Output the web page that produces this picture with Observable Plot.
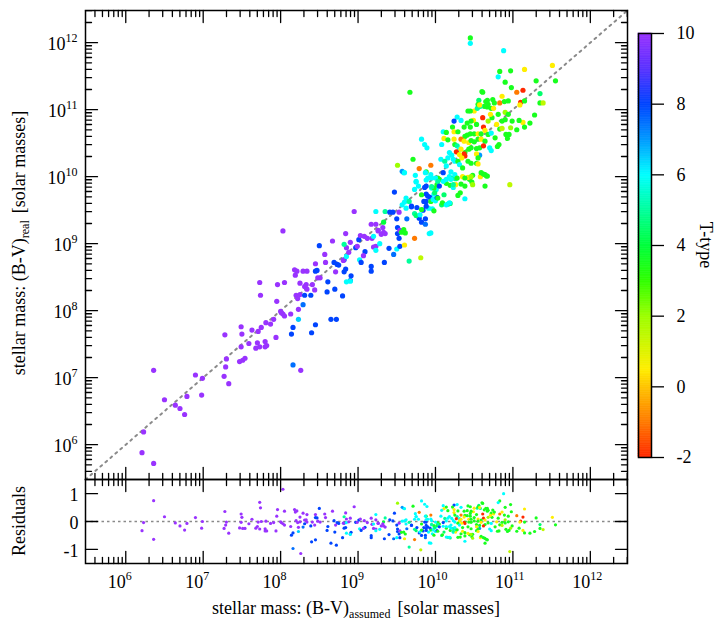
<!DOCTYPE html>
<html><head><meta charset="utf-8">
<script src="https://cdn.jsdelivr.net/npm/d3@7"></script>
<script src="https://cdn.jsdelivr.net/npm/@observablehq/plot@0.6"></script>
<style>
body{margin:0;background:#fff}
#chart{position:relative;width:715px;height:622px;font-family:"Liberation Serif","DejaVu Serif",serif}
#chart svg{position:absolute;left:0;top:0}
#chart svg text{font-family:"Liberation Serif","DejaVu Serif",serif}
</style></head><body><div id="chart"></div>
<script>
// log10 of stellar mass from (B-V) assumed
const logMassAssumed = [
6.36,6.21,6.36,6.23,6.50,6.64,6.70,6.76,6.79,6.90,
6.99,6.98,7.27,7.33,7.29,7.30,7.28,7.47,7.51,7.54,
7.49,7.49,7.50,7.59,7.63,7.70,7.68,7.73,7.71,7.75,
7.80,7.80,7.82,7.81,7.87,7.91,7.94,7.95,7.74,7.73,
7.96,8.05,8.20,8.22,8.25,8.23,8.03,8.05,8.13,8.01,
8.16,8.14,8.23,8.16,8.26,
8.03,8.00,8.18,8.21,8.29,8.34,8.19,8.25,8.31,8.34,
8.33,8.41,8.44,8.48,8.51,8.45,8.45,8.47,8.57,8.58,
8.67,8.50,8.61,8.60,8.70,8.80,8.31,8.39,8.29,8.45,
8.40,8.65,8.72,8.69,8.73,8.75,8.82,8.84,8.82,8.91,
8.90,8.85,8.90,8.71,8.81,8.85,8.88,8.84,8.90,8.85,
8.82,8.95,8.97,8.99,9.01,9.03,9.08,9.09,9.07,9.02,
9.04,9.17,9.17,9.12,9.17,9.23,9.18,9.20,9.23,9.23,
9.20,9.28,9.34,9.23,9.35,9.26,9.33,9.32,9.26,9.30,
9.33,9.35,9.41,9.45,9.53,9.50,9.51,9.51,9.54,9.56,
9.59,9.61,9.53,9.50,9.54,9.40,9.46,9.60,9.73,9.66,
9.81,
9.63,9.92,9.94,9.79,9.82,9.87,9.87,9.73,9.75,9.84,
9.69,9.76,9.62,9.57,9.60,9.62,9.66,9.91,9.96,9.98,
9.88,9.90,9.93,9.85,9.88,9.94,9.97,10.00,10.02,9.98,
10.01,9.95,9.88,9.86,9.82,10.08,10.16,10.19,10.11,10.38,
10.29,10.32,10.02,9.88,9.75,10.14,10.19,10.23,10.26,10.33,
10.38,10.47,10.44,10.48,10.42,10.58,10.62,10.66,10.64,10.96,
10.18,10.23,10.26,10.20,9.74,9.88,10.10,10.03,10.05,9.59,
10.45,10.45,10.88,9.67,11.51,11.55,11.15,10.83,10.97,10.81,
10.90,11.30,10.98,10.61,11.13,11.05,11.35,11.10,11.35,11.39,
10.56,10.65,10.67,10.83,10.86,10.89,10.94,10.63,10.67,10.72,
10.75,10.50,10.45,10.42,10.54,10.58,10.90,10.94,10.81,11.09,
11.28,11.22,11.13,11.05,11.15,10.99,10.97,10.86,10.90,10.79,
10.83,10.86,10.91,10.95,10.61,10.62,10.68,10.73,10.71,10.49,
10.46,10.53,10.41,10.37,10.45,10.28,10.33,10.24,10.22,10.24,
10.29,10.10,10.38,10.41,10.45,10.50,10.55,10.59,10.64,10.68,
10.72,10.77,10.82,10.93,10.11,10.16,10.24,10.25,10.33,10.37,
10.43,10.46,10.50,10.55,10.59,10.64,9.86,9.82,9.89,10.08,
10.28,10.31,10.38,10.27,10.37,10.38,10.33,10.31,10.34,10.43,
10.46,10.53,10.57,10.62,10.57,10.53,10.55,10.70,10.72,10.80,
10.21,10.18,10.16,10.23,10.25,10.07,10.12,10.14,10.29,10.31,
10.35,10.42,10.46,10.53,10.55,10.59,10.64,10.67,10.46,10.48,
10.35,10.38,10.25,10.28,10.23,10.14,10.20,10.10,10.00,10.03,
10.05,9.98,9.87,9.90,9.95,9.94,9.75,9.57,9.60,9.51,
9.79,9.94,9.71,9.47,9.69,9.80,9.82,9.88,9.73,9.78,
9.95,9.99,10.03,10.09,10.14,10.18,10.14,10.60,10.74,10.76,
10.55,10.57,10.68,11.15,11.08
];
// log10 of stellar mass from (B-V) real
const logMassReal = [
7.11,5.88,5.72,6.19,6.67,6.59,6.54,6.45,6.72,7.04,
6.99,6.74,7.02,6.91,7.16,7.28,7.64,7.24,7.26,7.29,
7.46,7.76,7.65,7.51,7.71,7.52,7.44,7.46,7.69,7.75,
7.54,7.46,7.48,7.82,7.80,7.87,7.60,8.14,8.23,8.42,
8.39,8.42,8.23,8.18,8.24,8.02,7.95,7.92,7.95,7.97,
7.75,7.65,7.87,7.19,7.11,
9.19,7.99,8.61,8.59,8.59,8.59,8.53,8.41,8.36,8.32,
8.39,8.39,8.31,8.49,8.49,8.70,8.59,8.60,8.84,8.72,
9.04,8.97,8.43,8.28,8.32,8.22,8.23,8.23,8.09,7.79,
7.67,7.87,7.87,8.72,8.69,8.68,8.76,8.62,8.58,8.52,
8.45,8.43,8.44,8.58,8.75,8.81,8.87,9.15,9.02,8.94,
8.99,9.48,8.94,8.96,9.06,9.12,9.11,8.88,8.82,8.76,
8.72,8.66,8.59,9.08,9.29,9.29,9.08,8.95,8.96,8.90,
9.11,9.00,8.72,9.48,9.48,9.20,9.32,9.24,9.19,9.14,
9.17,9.15,9.47,9.47,9.47,9.37,9.24,9.15,9.20,9.17,
9.21,9.16,9.08,8.92,8.96,8.93,8.84,8.98,9.08,8.74,
8.79,
9.37,9.15,9.16,9.38,9.32,9.37,9.29,9.45,9.42,9.50,
9.55,9.54,9.53,9.58,9.62,9.68,9.63,9.53,9.52,9.49,
9.74,9.71,9.69,9.63,9.63,9.63,9.66,9.64,9.69,9.74,
9.81,9.83,9.86,9.84,9.73,9.58,9.59,9.60,9.73,9.67,
9.72,9.76,9.88,9.95,9.92,9.90,9.87,9.84,9.88,9.89,
9.86,9.92,9.96,10.02,9.99,10.00,10.04,10.01,9.86,9.88,
10.00,9.98,9.97,10.07,10.02,10.07,10.06,9.98,9.96,10.06,
12.07,11.99,11.88,11.26,11.66,11.43,11.60,11.57,11.58,11.49,
11.41,11.43,11.33,11.26,11.29,11.26,11.24,11.11,11.10,11.10,
11.14,11.12,11.14,11.10,11.20,11.12,11.13,11.05,11.04,11.02,
11.02,10.98,10.98,10.98,11.02,11.05,10.96,10.93,10.93,11.07,
10.92,10.80,10.81,10.70,10.74,10.83,10.73,10.83,10.85,10.78,
10.71,10.72,10.63,10.63,10.88,10.74,10.83,10.88,10.93,10.84,
10.83,10.78,10.80,10.74,10.74,10.89,10.84,10.83,10.74,10.67,
10.67,10.67,10.60,10.62,10.64,10.64,10.64,10.64,10.69,10.63,
10.65,10.58,10.48,10.57,10.57,10.55,10.56,10.48,10.56,10.53,
10.51,10.54,10.52,10.56,10.56,10.53,10.48,10.56,10.43,10.48,
10.46,10.41,10.36,10.37,10.34,10.31,10.41,10.33,10.28,10.41,
10.43,10.42,10.43,10.46,10.32,10.34,10.28,10.43,10.39,10.45,
10.32,10.36,10.28,10.26,10.23,10.26,10.23,10.16,10.23,10.18,
10.13,10.23,10.20,10.20,10.19,10.06,10.03,10.01,10.00,9.88,
10.00,9.98,10.03,9.98,9.88,9.96,9.96,9.93,9.98,9.93,
9.86,9.83,10.06,9.98,9.98,10.03,9.93,10.08,10.06,10.17,
10.12,10.17,10.26,9.77,9.56,9.43,9.51,9.56,9.81,9.86,
9.85,9.76,9.68,9.61,9.58,9.61,10.66,11.27,11.15,11.10,
11.08,11.07,11.08,11.13,10.84
];
// morphological T-type
const tType = [
10,10,10,10,10,10,10,10,10,10,
10,10,10,10,10,10,10,10,10,10,
10,10,10,10,10,10,10,10,10,10,
10,10,10,10,10,10,10,10,10,10,
10,10,10,10,10,10,10,10,10,10,
8,8,6.5,7.5,10,
10,10,10,10,10,10,10,10,10,10,
10,10,10,10,10,10,8,8,10,10,
10,8,8,8,8,8,8,8,7.5,8,
8,8,8,8,8,8,8,8,8,8,
8,6,6,10,10,6,10,10,10,10,
5,10,8,10,8,10,10,8,10,6,
8,8,8,10,10,10,10,10,10,6,
6,6,8,6,5,10,4,10,10,10,
10,10,8,8,10,8,8,8,10,3.5,
3.5,3.5,8,6,8,8,7.5,0.5,-1,5,
1.5,
7.5,6,6,8,8,8,7.5,5,4.5,8,
8,8,6,6,6,6,5,6,6,3.5,
8,8,8,8,8,3.5,6,6,8,6,
6,6,8,8,3.5,4.5,5,4.5,4.5,6,
3.5,3.5,3.5,6,6,3.5,3.5,6,0.5,3.5,
3.5,3.5,3.5,3.5,0.5,0.5,3.5,3.5,3.5,1.5,
6,5,5,6,6,3.5,8,3.5,3.5,6,
3.5,6,6,3.5,0.5,3.5,0.5,3.5,3.5,6,
3.5,3.5,3.5,3.5,-2,-1,4.5,-2,3.5,1.5,
4.5,3.5,3.5,-1,0.5,3.5,3.5,3.5,3.5,3.5,
0.5,0.5,3.5,3.5,5,5,2,3.5,3.5,0.5,
3.5,3.5,0.5,3.5,3.5,3.5,2,3.5,3.5,0.5,
3.5,1.5,3.5,3.5,-2,-2,2,3.5,0.5,0.5,
3.5,3.5,3.5,3.5,3.5,6,6,8,3.5,0.5,
3.5,6,3.5,3.5,3.5,3.5,0.5,3.5,0.5,3.5,
6,3.5,3.5,3.5,0.5,3.5,0.5,3.5,-1,0.5,
0.5,3.5,3.5,3.5,0.5,3.5,6,6,6,6,
5,6,3.5,-2,-2,-2,0.5,0.5,0.5,3.5,
3.5,3.5,3.5,-2,7,0.5,3.5,6,6,3.5,
6,6,6,6,6,6,5,6,3.5,6,
3.5,3.5,3.5,3.5,0.5,3.5,3.5,3.5,2,2,
0.5,3.5,6,3.5,5,6,6,6,6,5,
8,3.5,6,6,6,6,6,7,6,2,
-1,-1,3.5,8,8,6,3.5,8,6,6,
5,4.5,3.5,3.5,6,6,3.5,3.5,3.5,3.5,
3.5,0.5,3.5,3.5,3.5
];

const massExtentExp = [5.48, 12.48];
const xTickExponents = [6, 7, 8, 9, 10, 11, 12];
const yTickExponents = [6, 7, 8, 9, 10, 11, 12];
const residualTicks = [-1, 0, 1];
const residualExtent = [-1.51, 1.51];
const colorbarTicks = [-2, 0, 2, 4, 6, 8, 10];
const colorStops = [-2, -1, 0, 0.5, 2, 3, 4, 5, 6, 7, 8, 9, 10];
const colorRange = ["#ff2800","#ff7a00","#ffc400","#ffee00","#9cff00","#30ff00","#00ff3c","#00ff9c","#00ffff","#0099ff","#0044ff","#5a32ff","#9933ff"];

const n = Math.min(logMassAssumed.length, logMassReal.length, tType.length);
const galaxies = d3.range(n).map(i => ({
  assumed: 10 ** logMassAssumed[i],
  real: 10 ** logMassReal[i],
  residual: logMassReal[i] - logMassAssumed[i],
  t: tType[i]
}));

const domain = massExtentExp.map(e => 10 ** e);
const majorX = xTickExponents.map(e => 10 ** e);
const majorY = yTickExponents.map(e => 10 ** e);
const minorLog = [];
for (let e = 5; e <= 12; e++) for (let k = 2; k <= 9; k++) {
  const v = k * 10 ** e;
  if (v > domain[0] && v < domain[1]) minorLog.push(v);
}

const colorScale = {type: "linear", domain: colorStops, range: colorRange};
const FONT = '"Liberation Serif", "DejaVu Serif", serif';
const baseStyle = {background: "transparent", fontFamily: FONT, fontSize: "18px", color: "black", overflow: "visible"};

const lineShape = {draw(ctx, l) { ctx.moveTo(0, 0); ctx.lineTo(0, -l); }};
const tickOpts = {anchor: "start", shape: lineShape, stroke: "black", strokeWidth: 1.3};
function xTicks(values, len) {
  return [
    Plot.vector(values, {...tickOpts, x: d => d, frameAnchor: "bottom", length: len, rotate: 0}),
    Plot.vector(values, {...tickOpts, x: d => d, frameAnchor: "top", length: len, rotate: 180})
  ];
}
function yTicks(values, len) {
  return [
    Plot.vector(values, {...tickOpts, y: d => d, frameAnchor: "left", length: len, rotate: 90}),
    Plot.vector(values, {...tickOpts, y: d => d, frameAnchor: "right", length: len, rotate: -90})
  ];
}

const main = Plot.plot({
  width: 715, height: 480,
  marginLeft: 85, marginRight: 88, marginTop: 10, marginBottom: 1,
  style: baseStyle,
  x: {type: "log", domain, axis: null},
  y: {type: "log", domain, axis: null},
  color: colorScale,
  marks: [
    Plot.line(domain, {x: d => d, y: d => d, stroke: "#8a8a8a", strokeWidth: 2, strokeDasharray: "2,4.6"}),
    Plot.dot(galaxies, {x: "assumed", y: "real", r: 2.6, fill: "t", clip: true}),
    ...xTicks(majorX, 12), ...xTicks(minorLog, 6),
    ...yTicks(majorY, 12), ...yTicks(minorLog, 6),
    Plot.axisY(majorY, {anchor: "left", tickSize: 0, tickPadding: 8, label: null, dy: 2, fontFamily: FONT,
      tickFormat: d => `10^${Math.round(Math.log10(d))}`}),
    Plot.frame({stroke: "black", strokeWidth: 1.5})
  ]
});

const resid = Plot.plot({
  width: 715, height: 622,
  marginLeft: 85, marginRight: 88, marginTop: 479, marginBottom: 59,
  style: baseStyle,
  x: {type: "log", domain, axis: null},
  y: {domain: residualExtent, axis: null},
  color: colorScale,
  marks: [
    Plot.ruleY([0], {stroke: "#8a8a8a", strokeWidth: 1.3, strokeDasharray: "2.5,3"}),
    Plot.dot(galaxies, {x: "assumed", y: "residual", r: 1.6, fill: "t", clip: true}),
    ...xTicks(majorX, 12), ...xTicks(minorLog, 6),
    ...yTicks(residualTicks, 12),
    Plot.axisY(residualTicks, {anchor: "left", tickSize: 0, tickPadding: 7, label: null, dy: 2, fontFamily: FONT, tickFormat: d => String(d)}),
    Plot.axisX(majorX, {anchor: "bottom", tickSize: 0, tickPadding: 12, label: null, textAnchor: "end", fontFamily: FONT, tickFormat: () => "10"}),
    Plot.axisX(majorX, {anchor: "bottom", tickSize: 0, tickPadding: 12, label: null, textAnchor: "start", fontSize: 12, dy: -4, fontFamily: FONT,
      tickFormat: d => String(Math.round(Math.log10(d)))}),
    Plot.frame({stroke: "black", strokeWidth: 1.5})
  ]
});

const cbStep = 0.05;
const cbSlices = d3.range(colorStops[0], colorStops[colorStops.length - 1] - 1e-9, cbStep);
const cbar = Plot.plot({
  width: 715, height: 480,
  marginLeft: 638, marginRight: 64, marginTop: 33, marginBottom: 23,
  style: baseStyle,
  y: {domain: [colorStops[0], colorStops[colorStops.length - 1]], axis: null},
  color: colorScale,
  marks: [
    Plot.rect(cbSlices, {y1: d => d, y2: d => d + cbStep, fill: d => d + cbStep / 2, stroke: d => d + cbStep / 2, strokeWidth: 0.6}),
    Plot.axisY(colorbarTicks, {anchor: "right", tickSize: 12, tickPadding: 13, label: null, strokeWidth: 1.3, fontFamily: FONT, tickFormat: d => String(d)}),
    Plot.frame({stroke: "black", strokeWidth: 1.5})
  ]
});

// superscript exponents on the y tick labels of the main panel
const NS = "http://www.w3.org/2000/svg";
main.querySelectorAll("text").forEach(t => {
  const m = t.textContent.match(/^10\^(-?\d+)$/);
  if (m) {
    t.textContent = "10";
    const s = document.createElementNS(NS, "tspan");
    s.setAttribute("dy", "-8");
    s.setAttribute("font-size", "12");
    s.textContent = m[1];
    t.appendChild(s);
  }
});

// axis titles
const titles = d3.create("svg").attr("width", 715).attr("height", 622)
  .style("font-family", FONT).style("font-size", "18px").style("overflow", "visible");
const yt = titles.append("text").attr("transform", "translate(25,243) rotate(-90)").attr("text-anchor", "middle");
yt.append("tspan").text("stellar mass: (B-V)");
yt.append("tspan").attr("font-size", 12).attr("dy", 4).text("real");
yt.append("tspan").attr("dy", -4).attr("dx", 7).text("[solar masses]");
const xt = titles.append("text").attr("transform", "translate(356,614)").attr("text-anchor", "middle");
xt.append("tspan").text("stellar mass: (B-V)");
xt.append("tspan").attr("font-size", 12).attr("dy", 4).text("assumed");
xt.append("tspan").attr("dy", -4).attr("dx", 7).text("[solar masses]");
titles.append("text").attr("transform", "translate(25,521) rotate(-90)").attr("text-anchor", "middle").text("Residuals");
titles.append("text").attr("transform", "translate(700,245) rotate(90)").attr("text-anchor", "middle").text("T-type");

const chart = document.getElementById("chart");
chart.append(main, resid, cbar, titles.node());
</script></body></html>
